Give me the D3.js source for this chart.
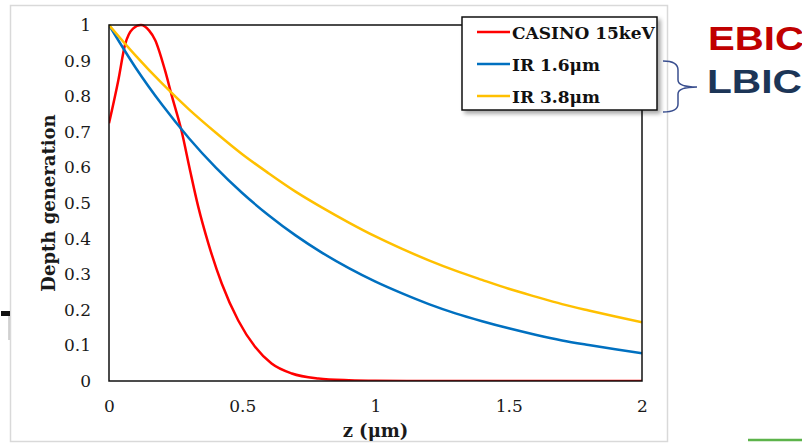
<html lang="en">
<head>
  <meta charset="UTF-8">
  <title>Depth generation</title>
  <style>
    body { margin: 0; background: #fff; }
  </style>
</head>
<body>
  <div id="my_dataviz"></div>
  <script src="https://d3js.org/d3.v7.min.js"></script>
  <script>

    // data
    const xTicks = [0, 0.5, 1, 1.5, 2];
    const yTicks = [0, 0.1, 0.2, 0.3, 0.4, 0.5, 0.6, 0.7, 0.8, 0.9, 1];

    const irZ = [0, 0.1, 0.2, 0.3, 0.4, 0.5, 0.6, 0.7, 0.8, 0.9, 1.0,
                 1.1, 1.2, 1.3, 1.4, 1.5, 1.6, 1.7, 1.8, 1.9, 2.0];
    const ir16 = [1, 0.880, 0.775, 0.682, 0.600, 0.528, 0.465, 0.409, 0.360, 0.317, 0.279,
                  0.246, 0.216, 0.190, 0.168, 0.148, 0.130, 0.114, 0.101, 0.089, 0.078];
    const ir38 = [1, 0.914, 0.835, 0.763, 0.698, 0.637, 0.583, 0.532, 0.487, 0.445, 0.406,
                  0.371, 0.339, 0.310, 0.284, 0.259, 0.237, 0.216, 0.198, 0.181, 0.165];

    const casinoZ = [0, 0.035, 0.06, 0.09, 0.12, 0.15, 0.173, 0.21, 0.235, 0.273, 0.304, 0.335,
                     0.373, 0.423, 0.485, 0.548, 0.61, 0.686, 0.785, 0.9, 1.0, 1.2, 1.5, 2.0];
    const casino = [0.724, 0.845, 0.944, 0.99, 1.0, 0.985, 0.958, 0.873, 0.803, 0.70, 0.592, 0.489,
                    0.386, 0.274, 0.17, 0.096, 0.049, 0.021, 0.007, 0.002, 0.0005, 0, 0, 0];

    const seriesNames = ["CASINO 15keV", "IR 1.6\u03bcm", "IR 3.8\u03bcm"];
    const seriesColors = ["#ff0000", "#0070c0", "#ffc000"];

    const W = 802, H = 443;
    const plot = { left: 109, right: 642, top: 25, bottom: 381 };
    const serif = "'DejaVu Serif', serif";

    const svg = d3.select("#my_dataviz")
      .append("svg")
      .attr("width", W)
      .attr("height", H);

    const defs = svg.append("defs");
    defs.append("filter").attr("id", "shadow")
      .attr("x", "-10%").attr("y", "-10%").attr("width", "130%").attr("height", "140%")
      .append("feDropShadow")
      .attr("dx", 3).attr("dy", 3).attr("stdDeviation", 2)
      .attr("flood-color", "#000").attr("flood-opacity", 0.35);

    // slide frame around the picture
    svg.append("rect")
      .attr("x", 10.5).attr("y", 5.5)
      .attr("width", 657).attr("height", 436)
      .attr("fill", "none").attr("stroke", "#d9d9d9").attr("stroke-width", 1.5);

    // bits of the slide at the edges
    svg.append("rect").attr("x", 1).attr("y", 311).attr("width", 9).attr("height", 5).attr("fill", "#111");
    svg.append("line").attr("x1", 9).attr("x2", 9).attr("y1", 316).attr("y2", 340)
      .attr("stroke", "#aaa").attr("stroke-width", 1);
    svg.append("line").attr("x1", 748).attr("x2", 802).attr("y1", 440).attr("y2", 440)
      .attr("stroke", "#5db34a").attr("stroke-width", 2.5);

    const x = d3.scaleLinear().domain([0, 2]).range([plot.left, plot.right]);
    const y = d3.scaleLinear().domain([0, 1]).range([plot.bottom, plot.top]);

    // axes (labels only, no tick marks)
    const xAxis = svg.append("g")
      .attr("transform", `translate(0,${plot.bottom})`)
      .call(d3.axisBottom(x).tickValues(xTicks).tickSize(0).tickPadding(19).tickFormat(d3.format("")));
    const yAxis = svg.append("g")
      .attr("transform", `translate(${plot.left},0)`)
      .call(d3.axisLeft(y).tickValues(yTicks).tickSize(0).tickPadding(18).tickFormat(d3.format("")));
    [xAxis, yAxis].forEach(g => {
      g.select(".domain").remove();
      g.selectAll("text")
        .attr("fill", "#1a1a1a")
        .style("font-family", serif)
        .style("font-size", "17px");
    });

    // curves
    const line = d3.line()
      .x(d => x(d[0]))
      .y(d => y(d[1]))
      .curve(d3.curveMonotoneX);

    const series = [
      d3.zip(casinoZ, casino),
      d3.zip(irZ, ir16),
      d3.zip(irZ, ir38)
    ];

    const clip = defs.append("clipPath").attr("id", "plotclip");
    clip.append("rect")
      .attr("x", plot.left).attr("y", plot.top - 3)
      .attr("width", plot.right - plot.left).attr("height", plot.bottom - plot.top + 3);

    svg.append("g")
      .attr("clip-path", "url(#plotclip)")
      .selectAll("path")
      .data(series)
      .join("path")
      .attr("d", line)
      .attr("fill", "none")
      .attr("stroke", (d, i) => seriesColors[i])
      .attr("stroke-width", 2.5);

    // plot border
    svg.append("rect")
      .attr("x", plot.left).attr("y", plot.top)
      .attr("width", plot.right - plot.left).attr("height", plot.bottom - plot.top)
      .attr("fill", "none").attr("stroke", "#111").attr("stroke-width", 1.5);

    // axis titles
    svg.append("text")
      .attr("x", (plot.left + plot.right) / 2)
      .attr("y", 437)
      .attr("text-anchor", "middle")
      .style("font-family", serif).style("font-weight", "bold").style("font-size", "18px")
      .attr("fill", "#1a1a1a")
      .text("z (\u03bcm)");

    svg.append("text")
      .attr("transform", `translate(55,${(plot.top + plot.bottom) / 2}) rotate(-90)`)
      .attr("text-anchor", "middle")
      .style("font-family", serif).style("font-weight", "bold").style("font-size", "18px")
      .attr("fill", "#1a1a1a")
      .text("Depth generation");

    // legend
    const legend = svg.append("g");
    legend.append("rect")
      .attr("x", 462).attr("y", 17).attr("width", 195).attr("height", 93)
      .attr("fill", "#fff").attr("stroke", "#111").attr("stroke-width", 1.5)
      .attr("filter", "url(#shadow)");

    const items = legend.selectAll("g.item")
      .data(seriesNames)
      .join("g")
      .attr("class", "item")
      .attr("transform", (d, i) => `translate(0,${32 + i * 32})`);
    items.append("line")
      .attr("x1", 477).attr("x2", 510)
      .attr("stroke", (d, i) => seriesColors[i])
      .attr("stroke-width", 2.5);
    items.append("text")
      .attr("x", 512).attr("y", 7)
      .style("font-family", serif).style("font-weight", "bold").style("font-size", "17px")
      .attr("fill", "#111")
      .text(d => d);

    // brace + EBIC / LBIC labels
    svg.append("path")
      .attr("d", "M663,61 Q678,61 678,70 L678,80 Q678,87 697,87 Q678,87 678,94 L678,104 Q678,112 663,112")
      .attr("fill", "none").attr("stroke", "#3a4f8f").attr("stroke-width", 1.5);

    svg.append("text")
      .attr("x", 708).attr("y", 50)
      .attr("textLength", 96).attr("lengthAdjust", "spacingAndGlyphs")
      .style("font-family", "'Liberation Sans', Arial, sans-serif")
      .style("font-weight", "bold").style("font-size", "33px")
      .attr("fill", "#c00000")
      .text("EBIC");

    svg.append("text")
      .attr("x", 707).attr("y", 93)
      .attr("textLength", 95).attr("lengthAdjust", "spacingAndGlyphs")
      .style("font-family", "'Liberation Sans', Arial, sans-serif")
      .style("font-weight", "bold").style("font-size", "34px")
      .attr("fill", "#1c3557")
      .text("LBIC");

  </script>
</body>
</html>
